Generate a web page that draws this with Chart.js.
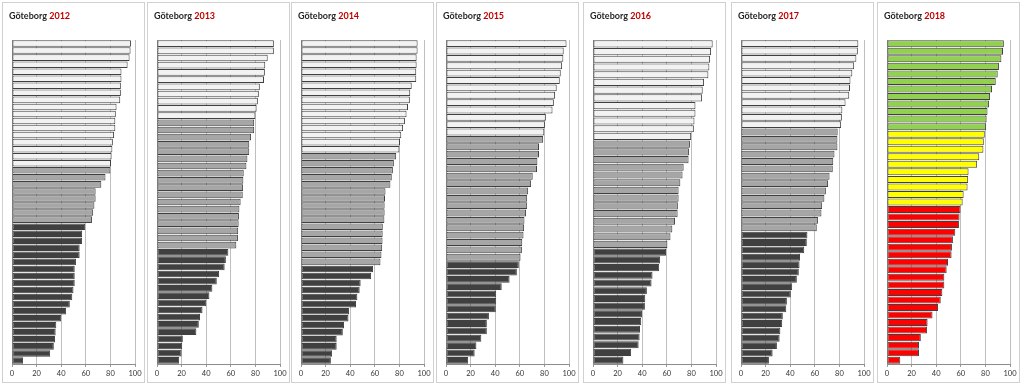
<!DOCTYPE html>
<html>
<head>
<meta charset="utf-8">
<script src="https://cdn.jsdelivr.net/npm/chart.js@4/dist/chart.umd.min.js"></script>
<style>
  html, body { margin: 0; padding: 0; background: #ffffff; }
  body { width: 1024px; height: 386px; position: relative; overflow: hidden; }
  .panel { position: absolute; top: 2px; width: 143px; height: 381px; box-sizing: border-box;
           border: 1px solid #d0d0d0; background: #ffffff; }
  .panel canvas { position: absolute; left: 0; top: 0; }
  .title { position: absolute; left: 6px; top: 7px; font-family: Lato, "Liberation Sans", sans-serif;
           font-weight: bold; font-size: 9px; color: #262626; white-space: nowrap; }
  .title span { color: #c00000; }
</style>
</head>
<body>
<script>
// ---- data ----
const years = ['2012', '2013', '2014', '2015', '2016', '2017', '2018'];
const xTicks = [0, 20, 40, 60, 80, 100];

const high2012 = [96.7, 96.4, 95.6, 94, 89, 89, 88.5, 88.5, 88, 85, 84.4, 84, 84, 83, 82, 81.6, 81, 80.5];
const mid2012  = [80, 76, 72.6, 68, 68, 67, 66, 65];
const low2012  = [59.5, 57, 57, 55, 55, 52, 51, 51, 51, 50, 49, 47, 44, 40, 36, 35.5, 35, 34, 31, 9];

const high2013 = [95, 95, 90, 88, 87.7, 87, 83.6, 82.8, 82, 81, 80];
const mid2013  = [79, 79, 76.5, 75, 75, 73.5, 72.7, 70.5, 70.2, 70, 69.7, 68, 67, 66.6, 66.4, 66, 65.8, 64.5];
const low2013  = [58, 56, 55, 50.5, 48.6, 45, 42.6, 40, 37, 35, 34, 32, 21, 20.5, 20, 18];

const high2014 = [94.8, 94.8, 94, 94, 93.7, 93.7, 90, 88.8, 88.5, 87, 85.8, 84.5, 83, 81.5, 80.5, 80];
const mid2014  = [77.4, 75.5, 74.7, 73.8, 72.7, 68.7, 68.3, 68, 68, 67.8, 66.5, 66.4, 66.3, 66, 65.4, 64.6];
const low2014  = [58.6, 57, 48.5, 47.7, 45.8, 44.7, 39, 38.6, 35, 34, 29, 29, 25.3, 24.3];

const high2015 = [98, 95.7, 95.4, 94.4, 93.3, 92.5, 90, 88.7, 87.7, 86.6, 81.2, 80.4, 79.9];
const mid2015  = [79, 75.6, 75.6, 74.3, 74, 70.5, 69.2, 66.8, 66, 66, 65.1, 63.8, 63.5, 63, 62, 61.7, 60.6];
const low2015  = [59.2, 57.6, 51.7, 45.3, 40.8, 40.8, 40.5, 34.9, 33.2, 33.2, 28.7, 24.7, 23.3, 18];

const high2016 = [97.3, 96, 95.2, 94.6, 93.8, 90.3, 89.2, 88.7, 83.3, 83.3, 82.5, 82, 79.8];
const mid2016  = [78.8, 78, 77.7, 73.7, 72.8, 71, 69.6, 69.6, 69, 68.8, 66.7, 64.5, 63, 60.5];
const low2016  = [59.4, 54.6, 53.8, 48.4, 47.6, 43.8, 42.5, 42.2, 39.8, 39.2, 38.2, 37.9, 37.1, 31, 24.7];

const high2017 = [95.4, 95, 93.8, 92, 90.5, 89, 88.6, 88, 85, 82.4, 82, 81.4];
const mid2017  = [78.6, 78.4, 78.4, 76, 75, 74.6, 72, 70.8, 69, 67.8, 66, 65.4, 62.7, 61.6];
const low2017  = [54, 53.5, 51.4, 48, 47.6, 47, 45.4, 41.6, 40.5, 37.3, 36.8, 34, 33.5, 32, 31.4, 29.2, 25.7, 22.7];

const high2018 = [95, 94.3, 93, 91, 90, 88.4, 85.4, 83.8, 83, 81.7, 81, 80.6];
const mid2018  = [79.5, 78.7, 78.4, 75, 73.3, 66.3, 66, 65.5, 62.3, 61.5];
const low2018  = [59.8, 59, 58.5, 55.5, 53.6, 52.8, 52.5, 49.6, 48.5, 46.6, 46.6, 45, 43.7, 41.5, 37, 33, 32.6, 27.5, 26, 26, 10.8];

const groups = {
  '2012': [high2012, mid2012, low2012],
  '2013': [high2013, mid2013, low2013],
  '2014': [high2014, mid2014, low2014],
  '2015': [high2015, mid2015, low2015],
  '2016': [high2016, mid2016, low2016],
  '2017': [high2017, mid2017, low2017],
  '2018': [high2018, mid2018, low2018]
};

// ---- styling ----
const greyColors = ['#f2f2f2', '#a6a6a6', '#404040'];
const trafficColors = ['#92d050', '#ffff00', '#ff0000'];
const panelLefts = [2, 147, 291, 436, 583, 731, 877];

years.forEach((yr, i) => {
  const panel = document.createElement('div');
  panel.className = 'panel';
  panel.style.left = panelLefts[i] + 'px';
  const canvas = document.createElement('canvas');
  canvas.width = 141; canvas.height = 379;
  panel.appendChild(canvas);
  const title = document.createElement('div');
  title.className = 'title';
  title.innerHTML = 'Göteborg <span>' + yr + '</span>';
  panel.appendChild(title);
  document.body.appendChild(panel);

  const palette = yr === '2018' ? trafficColors : greyColors;
  const values = [];
  const colors = [];
  groups[yr].forEach((arr, g) => {
    arr.forEach(v => { values.push(v); colors.push(palette[g]); });
  });
  const labels = values.map((_, k) => String(k + 1));

  new Chart(canvas, {
    type: 'bar',
    data: {
      labels: labels,
      datasets: [{
        data: values,
        backgroundColor: colors,
        borderColor: '#404040',
        borderWidth: 1,
        borderSkipped: false,
        barPercentage: 0.93,
        categoryPercentage: 1
      }]
    },
    options: {
      indexAxis: 'y',
      responsive: false,
      animation: false,
      events: [],
      devicePixelRatio: 1,
      layout: { padding: { left: 9, right: 9, top: 37, bottom: 2 } },
      plugins: { legend: { display: false }, tooltip: { enabled: false }, title: { display: false } },
      scales: {
        x: {
          min: 0, max: 100,
          afterBuildTicks: (s) => { s.ticks = xTicks.map(v => ({ value: v })); },
          ticks: { font: { family: 'Lato', size: 7.5 }, color: '#333333', padding: 2, maxRotation: 0, autoSkip: false },
          grid: { color: '#bfbfbf', lineWidth: 1, drawTicks: true, tickLength: 3, tickColor: '#9a9a9a' },
          border: { display: true, color: '#8c8c8c' }
        },
        y: {
          ticks: { display: false },
          grid: { display: false, drawTicks: false },
          border: { display: true, color: '#8c8c8c' }
        }
      }
    }
  });
});
</script>
</body>
</html>
